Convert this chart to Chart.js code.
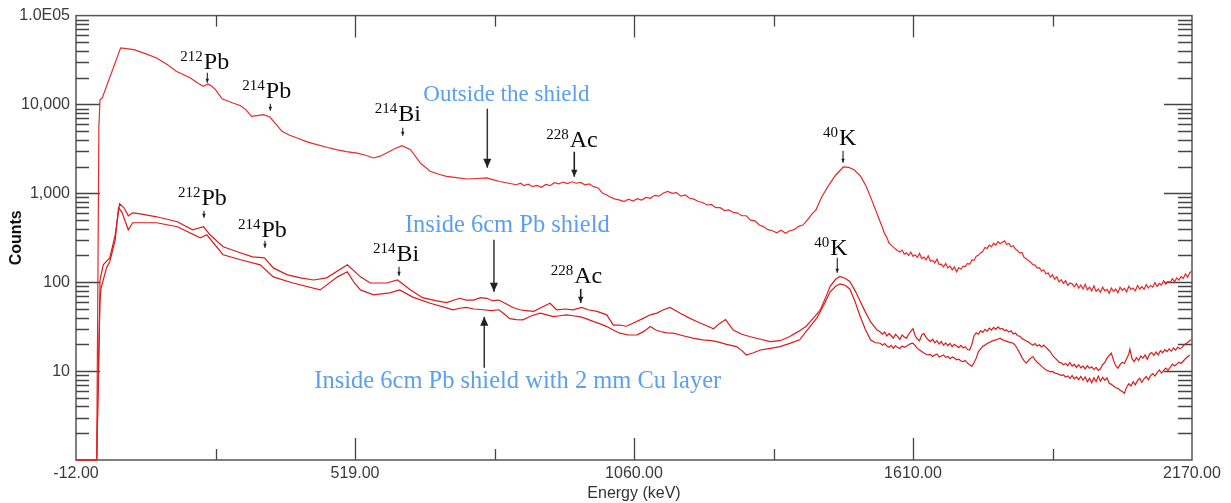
<!DOCTYPE html>
<html>
<head>
<meta charset="utf-8">
<script src="https://cdn.jsdelivr.net/npm/chart.js@4.4.1/dist/chart.umd.min.js"></script>
<style>
  html, body { margin: 0; background: #fff; }
</style>
</head>
<body>
<canvas id="spectrum" width="1231" height="503"></canvas>
<script>
// channel axis (0..1024) with calibrated energy labels every 256 channels
const labelChannels = [0, 256, 512, 768, 1024];
const energyLabels = ['-12.00', '519.00', '1060.00', '1610.00', '2170.00'];
const countTicks = [10, 100, 1000, 10000, 100000];
const countLabels = ['10', '100', '1,000', '10,000', '1.0E05'];

// [channel, counts]
const outsideShield = [
  [0,1],[19,1],[21,5500],[22,11300],[24,11800],[41,43300],[53,41400],[63,37600],[74,33400],[84,28000],
  [92,23600],[105,19900],[112,17300],[117,16000],[121,17000],[124,16200],[128,14700],[134,11600],[144,10400],
  [151,9690],[156,8700],[161,7340],[166,7500],[172,7670],[178,7230],[183,6100],[189,4980],[196,4500],[203,4200],
  [212,3800],[221,3530],[230,3300],[239,3100],[248,2950],[258,2840],[265,2700],[273,2500],[279,2620],[285,2840],
  [292,3150],[299,3440],[307,3100],[316,2190],[325,1770],[333,1640],[340,1550],[349,1500],[359,1450],[368,1470],
  [377,1490],[383,1420],[389,1360],[397,1300],[404,1250],[408,1300],[411,1220],[415,1270],[419,1190],[423,1230],
  [427,1170],[431,1260],[435,1220],[439,1320],[443,1280],[447,1340],[451,1290],[455,1350],[459,1300],[463,1330],
  [467,1250],[471,1280],[475,1190],[479,1150],[483,1010],[487,960],[491,900],[495,860],[499,840],[503,810],
  [507,860],[511,820],[515,870],[519,840],[523,900],[527,880],[531,950],[535,930],[539,1010],[543,1050],
  [547,1000],[551,1020],[555,930],[559,960],[563,880],[567,860],[571,810],[575,790],[579,740],[583,750],
  [587,690],[591,690],[595,640],[599,650],[603,610],[607,600],[611,560],[615,560],[619,500],[623,490],
  [627,440],[631,420],[635,390],[639,380],[643,360],[647,385],[651,355],[655,380],[659,390],[663,425],
  [667,440],[671,500],[675,580],[679,653],[684,900],[690,1200],[697,1600],[704,1980],[709,1960],[714,1845],
  [720,1550],[725,1200],[730,850],[736,550],[740,410],[742,350],[744,318],[746,276],[748,262],[750,248],
  [752,236],[754,226],[756,219],[758,230],[760,207],[762,214],[764,200],[766,218],[768,196],[770,204],
  [772,190],[774,211],[776,185],[778,192],[780,178],[782,198],[784,172],[786,176],[788,165],[790,182],
  [792,158],[794,160],[796,149],[798,163],[800,145],[802,152],[804,138],[806,149],[808,131],[810,146],
  [812,140],[814,152],[816,150],[818,163],[820,159],[822,178],[824,176],[826,196],[828,201],[830,214],
  [832,222],[834,246],[836,240],[838,262],[840,250],[842,275],[844,262],[846,286],[848,271],[850,282],
  [852,292],[854,266],[856,274],[858,251],[860,258],[862,236],[864,226],[866,214],[868,216],[870,190],
  [872,184],[874,174],[876,168],[878,158],[880,156],[882,144],[884,146],[886,133],[888,138],[890,124],
  [892,128],[894,114],[896,121],[898,108],[900,115],[902,101],[904,107],[906,97],[908,104],[910,92],
  [912,98],[914,96],[916,89],[918,97],[920,86],[922,93],[924,84],[926,95],[928,82],[930,88],[932,80],
  [934,91],[936,79],[938,84],[940,77],[942,88],[944,80],[946,83],[948,75],[950,86],[952,79],[954,84],
  [956,76],[958,88],[960,81],[962,85],[964,78],[966,90],[968,83],[970,86],[972,80],[974,92],[976,84],
  [978,89],[980,83],[982,94],[984,86],[986,92],[988,88],[990,99],[992,90],[994,97],[996,93],[998,104],
  [1000,95],[1002,102],[1004,99],[1006,110],[1008,101],[1010,112],[1012,106],[1014,116],[1016,110],
  [1018,124],[1020,114],[1022,128],[1024,134]
];

const insidePb = [
  [0,1],[19,1],[22,82],[22,106],[25,157],[31,188],[36,342],[40,764],[44,688],[48,559],[52,604],[59,589],
  [74,545],[93,479],[107,389],[117,421],[123,342],[135,251],[148,220],[162,193],[173,188],[181,145],[194,121],
  [206,112],[218,106],[230,112],[249,157],[261,115],[270,98],[285,98],[295,106],[307,82],[318,67],[330,62],
  [340,59],[352,66],[358,63],[365,63],[371,67],[377,66],[382,62],[388,63],[395,57],[401,52],[407,49],[413,48],
  [420,47],[427,52],[435,58],[441,49],[449,50],[456,49],[464,52],[470,49],[478,47],[487,43],[493,33],[499,33],
  [505,32],[512,35],[520,39],[527,43],[533,45],[539,49],[545,52],[550,48],[554,45],[562,40],[570,36],[577,33],
  [585,30],[590,34],[596,38],[603,29],[611,26],[618,24.5],[627,23],[637,21.5],[646,22],[655,24.5],[663,28],
  [670,32],[677,40],[683,49],[688,68],[692,90],[697,108],[701,116],[706,110],[710,102],[715,80],[719,63],
  [724,47],[729,36],[735,29],[738,27.5],[740,26],[742,27.5],[744,24.8],[746,26.5],[748,25],[750,23.5],
  [752,26],[754,24.5],[756,22.8],[758,25.5],[760,24.2],[762,23.5],[764,26],[766,28],[768,30],[770,25],
  [772,23],[774,22],[776,25.5],[778,26.5],[780,24],[782,22.5],[784,21.5],[786,22.8],[788,20.8],[790,22],
  [792,20.2],[794,21.5],[796,19.5],[798,20.8],[800,19.4],[802,20.5],[804,18.8],[806,20],[808,19.2],
  [810,18.4],[812,19.5],[814,18.2],[816,18.8],[818,17.5],[820,17.3],[822,20],[824,25],[826,27],[828,26],
  [830,28.5],[832,27.2],[834,29.5],[836,28],[838,30.5],[840,29],[842,31],[844,29.5],[846,31.5],[848,29.8],
  [850,30.2],[852,28.5],[854,29],[856,27.5],[858,28.4],[860,26.2],[862,26.8],[864,25],[866,24.8],[868,23.2],
  [870,22.5],[872,21.8],[874,21.2],[876,20.3],[878,19.5],[880,20.4],[882,19.2],[884,19.8],[886,18.7],
  [888,19.6],[890,18.5],[892,17.5],[894,16.5],[896,15],[898,14.2],[900,13.4],[902,12.6],[904,12.4],
  [906,11.8],[908,12.2],[910,11.5],[912,12.5],[914,11.4],[916,11.9],[918,11],[920,11.8],[922,10.9],
  [924,11.4],[926,10.6],[928,11.5],[930,10.8],[932,11.2],[934,10.4],[936,11],[938,10.2],[940,10.6],
  [942,11.8],[944,12.5],[946,14],[948,15],[950,15.9],[952,13.2],[954,11.5],[956,10.8],[958,11.8],[960,12.6],
  [962,12.2],[964,13.8],[966,15.5],[967,17.6],[969,13.8],[971,12.8],[973,14.2],[975,13.2],[977,14.8],
  [979,14],[981,15.2],[983,13.6],[985,15.5],[987,16.2],[989,15],[991,16.4],[993,15.2],[995,17],[997,16.1],
  [999,17.4],[1001,16.6],[1003,17.8],[1005,16.8],[1007,18.2],[1009,17.2],[1011,18.6],[1013,17.8],
  [1015,18.6],[1017,19.8],[1019,20.6],[1021,21.5],[1023,22.5]
];

const insidePbCu = [
  [0,1],[19,1],[22,63],[23,86],[28,145],[31,170],[36,300],[39,688],[42,621],[48,389],[52,467],[74,467],
  [93,421],[114,316],[120,342],[135,204],[151,179],[169,157],[181,115],[199,98],[224,82],[240,115],[249,131],
  [255,100],[261,82],[273,72],[288,76],[297,82],[309,68],[325,58],[340,51.5],[346,49],[352,51],[358,52],
  [365,50],[374,49],[381,48],[388,49],[393,44],[398,39],[404,38],[410,37.7],[418,42],[426,45],[432,43],
  [438,41],[444,42],[450,43],[456,42],[462,41],[468,39],[475,36],[481,34],[487,31.7],[493,29],[499,26.7],
  [507,25.5],[515,25.6],[521,28],[527,31.7],[532,29],[536,27.9],[542,27],[548,26.7],[557,25],[566,23.5],
  [575,22.5],[583,22],[588,21.5],[597,20],[606,18.9],[611,17],[615,15.2],[621,16],[628,17.3],[637,18],
  [646,18.9],[655,20.5],[664,22.5],[672,30],[680,40],[686,55],[692,78],[697,90],[701,96],[706,92],[710,84],
  [715,60],[719,43],[724,30],[729,22.5],[733,21],[738,20.6],[740,19.6],[742,20.4],[744,19.2],[746,18.6],
  [748,19.5],[750,18.1],[752,19.4],[754,18.4],[756,18],[758,19.2],[760,18.5],[762,19],[764,19.8],[766,20.4],
  [768,20.6],[770,19.4],[772,18],[774,17.3],[776,16.6],[778,16],[780,15.5],[782,15.2],[784,15.4],[786,14.6],
  [788,15.2],[790,15.6],[792,14.4],[794,14.8],[796,15.2],[798,14.3],[800,14.6],[802,13.8],[804,14.4],
  [806,14],[808,13.4],[810,13.6],[812,13],[814,12.8],[816,13.2],[818,12.3],[820,11.8],[822,11.3],[824,12.4],
  [826,14],[828,16.5],[830,17.8],[832,19],[834,19.6],[836,20.4],[838,21],[840,21.6],[842,22.2],[844,22.5],
  [846,23],[848,23.5],[850,22.6],[852,22],[854,21.6],[856,21.2],[858,20.9],[860,20.6],[862,19.4],[864,17.6],
  [866,16],[868,14.2],[870,13],[872,12.3],[874,13.2],[876,14],[878,14.6],[880,13.4],[882,12.6],[884,12],
  [886,11.3],[888,10.8],[890,10.3],[892,10.1],[894,9.8],[896,9.9],[898,9.5],[900,9.4],[902,9.2],[904,8.9],
  [906,9.1],[908,8.6],[910,8.8],[912,8.3],[914,8.9],[916,8.2],[918,8.6],[920,8.0],[922,8.7],[924,7.9],
  [926,8.6],[928,7.6],[930,8.3],[932,7.4],[934,8.4],[936,7.6],[938,8.8],[940,7.7],[942,8.5],[944,7.9],
  [946,8.4],[948,7.3],[950,7.1],[952,6.8],[954,6.5],[956,6.4],[958,6.1],[960,5.9],[962,5.64],[964,6.6],
  [966,7.2],[968,6.8],[970,7.6],[972,7.0],[974,7.8],[976,8.3],[978,7.5],[980,8.2],[982,8.7],[984,8.0],
  [986,8.9],[988,9.4],[990,8.8],[992,9.6],[994,10.3],[996,9.5],[998,10.2],[1000,10.8],[1002,10.2],[1004,11],
  [1006,12],[1008,11.4],[1010,12],[1012,12.6],[1014,12.2],[1016,13],[1018,13.8],[1020,14.5],[1022,15.2]
];

// peak markers: arrow at channel ch from counts `from` down to `to`, label offset in px from arrow start
const peakNotes = [
  { mass: '212', el: 'Pb', ch: 120.5, from: 22800, to: 17600, dx: -27, dy: -4, head: 4 },
  { mass: '214', el: 'Pb', ch: 178.3, from: 10200, to: 8510, dx: -28, dy: -6, head: 4 },
  { mass: '214', el: 'Bi', ch: 299.8, from: 5480, to: 4450, dx: -28, dy: -7, head: 4 },
  { mass: '228', el: 'Ac', ch: 457.2, from: 2940, to: 1540, dx: -28, dy: -5, head: 7 },
  { mass: '40', el: 'K', ch: 703.8, from: 3020, to: 2210, dx: -20, dy: -6, head: 4 },
  { mass: '212', el: 'Pb', ch: 117.4, from: 637, to: 531, dx: -26, dy: -6, head: 4 },
  { mass: '214', el: 'Pb', ch: 173.4, from: 293, to: 244, dx: -27, dy: -4, head: 4 },
  { mass: '214', el: 'Bi', ch: 296.4, from: 149, to: 118, dx: -26, dy: -6, head: 4 },
  { mass: '228', el: 'Ac', ch: 463.1, from: 84.3, to: 58.6, dx: -30, dy: -6, head: 6 },
  { mass: '40', el: 'K', ch: 698.5, from: 188, to: 128, dx: -23, dy: -3, head: 4 }
];

const shieldNotes = [
  { text: 'Outside the shield', ch: 377.4, from: 8970, to: 1940, dx: -64, dy: -8, size: 23 },
  { text: 'Inside 6cm Pb shield', ch: 383.5, from: 300, to: 78, dx: -89, dy: -8, size: 24.5 },
  { text: 'Inside 6cm Pb shield with 2 mm Cu layer', ch: 374.6, from: 10.9, to: 40.8, dx: -170, dy: 20, size: 24.5 }
];

function drawArrow(ctx, px, y0, y1, head) {
  ctx.beginPath();
  ctx.moveTo(px, y0);
  ctx.lineTo(px, y1);
  ctx.stroke();
  const dir = y1 > y0 ? 1 : -1;
  ctx.beginPath();
  ctx.moveTo(px, y1);
  ctx.lineTo(px - head * 0.45, y1 - dir * head);
  ctx.lineTo(px + head * 0.45, y1 - dir * head);
  ctx.closePath();
  ctx.fill();
}

// frame with inward ticks on all four sides
const frameTicks = {
  id: 'frameTicks',
  beforeDatasetsDraw(chart) {
    const { ctx, chartArea: a, scales: { x, y } } = chart;
    ctx.save();
    ctx.strokeStyle = '#555';
    ctx.lineWidth = 1.5;
    ctx.strokeRect(a.left, a.top, a.right - a.left, a.bottom - a.top);
    ctx.lineWidth = 1.3;
    ctx.strokeStyle = '#444';
    ctx.beginPath();
    for (let dec = 1; dec < 100000; dec *= 10) {
      for (let m = 1; m < 10; m++) {
        const v = dec * m;
        if (v === 1) continue;
        const py = Math.round(y.getPixelForValue(v)) + 0.5;
        const major = m === 1;
        ctx.moveTo(a.left, py);
        ctx.lineTo(a.left + (major ? 24 : 13), py);
        ctx.moveTo(a.right, py);
        ctx.lineTo(a.right - (major ? 28 : 14), py);
      }
    }
    for (let ch = 128; ch < 1024; ch += 128) {
      const px = Math.round(x.getPixelForValue(ch)) + 0.5;
      const len = ch % 256 === 0 ? 22 : 11;
      ctx.moveTo(px, a.bottom);
      ctx.lineTo(px, a.bottom - len);
      ctx.moveTo(px, a.top);
      ctx.lineTo(px, a.top + len);
    }
    ctx.stroke();
    ctx.restore();
  },
  afterDatasetsDraw(chart) {
    const { ctx, scales: { x, y } } = chart;
    ctx.save();
    ctx.textBaseline = 'alphabetic';
    ctx.textAlign = 'left';

    peakNotes.forEach(n => {
      const px = x.getPixelForValue(n.ch);
      const y0 = y.getPixelForValue(n.from);
      const y1 = y.getPixelForValue(n.to);
      ctx.strokeStyle = '#222';
      ctx.fillStyle = '#222';
      ctx.lineWidth = n.head > 5 ? 1.6 : 1.1;
      drawArrow(ctx, px, y0, y1, n.head);
      const left = px + n.dx;
      const base = y0 + n.dy;
      ctx.fillStyle = '#0a0a0a';
      ctx.font = '15px "Liberation Serif"';
      ctx.fillText(n.mass, left, base - 8);
      const w = ctx.measureText(n.mass).width;
      ctx.font = '24px "Liberation Serif"';
      ctx.fillText(n.el, left + w + 1, base);
    });

    shieldNotes.forEach(n => {
      const px = x.getPixelForValue(n.ch);
      const y0 = y.getPixelForValue(n.from);
      const y1 = y.getPixelForValue(n.to);
      ctx.strokeStyle = '#333';
      ctx.fillStyle = '#222';
      ctx.lineWidth = 1.5;
      drawArrow(ctx, px, y0, y1, 9);
      ctx.fillStyle = '#5b9ff0';
      ctx.font = n.size + 'px "Liberation Serif"';
      ctx.fillText(n.text, px + n.dx, y0 + n.dy);
    });
    ctx.restore();
  }
};

const toPoints = arr => arr.map(([c, n]) => ({ x: c, y: n }));

new Chart(document.getElementById('spectrum'), {
  type: 'line',
  data: {
    datasets: [
      { label: 'Outside the shield', data: toPoints(outsideShield), borderColor: '#e62a2a' },
      { label: 'Inside 6cm Pb shield', data: toPoints(insidePb), borderColor: '#d81c1c' },
      { label: 'Inside 6cm Pb shield with 2 mm Cu layer', data: toPoints(insidePbCu), borderColor: '#d81c1c' }
    ]
  },
  options: {
    responsive: false,
    animation: false,
    parsing: false,
    layout: { padding: { top: 15, right: 39, left: 0, bottom: 0 } },
    elements: {
      line: { borderWidth: 1.2, tension: 0, fill: false },
      point: { radius: 0 }
    },
    datasets: { line: { clip: false } },
    plugins: { legend: { display: false }, tooltip: { enabled: false } },
    scales: {
      x: {
        type: 'linear',
        min: 0,
        max: 1024,
        afterBuildTicks: s => { s.ticks = labelChannels.map(v => ({ value: v })); },
        afterFit: s => { s.height = 43; },
        grid: { display: false, drawTicks: false },
        border: { display: false },
        ticks: {
          autoSkip: false,
          maxRotation: 0,
          padding: 4,
          color: '#3a3a3a',
          font: { family: '"Liberation Sans"', size: 16 },
          callback: (v, i) => energyLabels[i]
        },
        title: {
          display: true,
          text: 'Energy (keV)',
          color: '#333',
          padding: { top: 0, bottom: 0 },
          font: { family: '"Liberation Sans"', size: 16 }
        }
      },
      y: {
        type: 'logarithmic',
        min: 1,
        max: 100000,
        afterBuildTicks: s => { s.ticks = countTicks.map(v => ({ value: v })); },
        afterFit: s => { s.width = 76; },
        grid: { display: false, drawTicks: false },
        border: { display: false },
        ticks: {
          padding: 6,
          color: '#3a3a3a',
          font: { family: '"Liberation Sans"', size: 16 },
          callback: (v, i) => countLabels[i]
        },
        title: {
          display: true,
          text: 'Counts',
          color: '#111',
          padding: { top: 7, bottom: 0 },
          font: { family: '"Liberation Sans"', size: 16, weight: 'bold' }
        }
      }
    }
  },
  plugins: [frameTicks]
});
</script>
</body>
</html>
